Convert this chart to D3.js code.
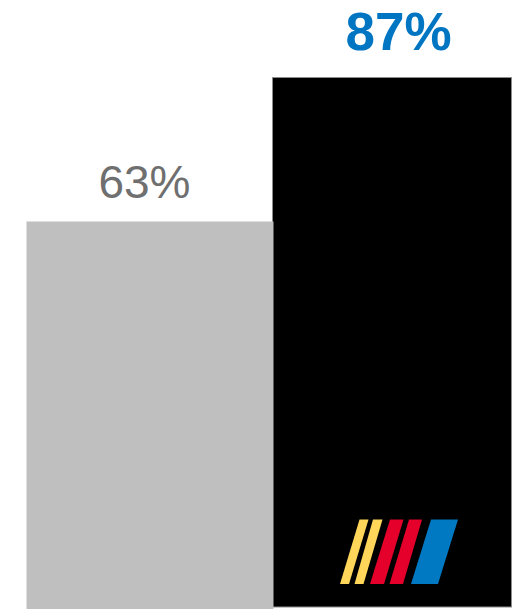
<!DOCTYPE html>
<html>
<head>
<meta charset="utf-8">
<script src="https://cdn.jsdelivr.net/npm/d3@7"></script>
<style>
  html, body { margin: 0; padding: 0; background: #fff; overflow: hidden; }
  svg { display: block; }
</style>
</head>
<body>
<div id="chart"></div>
<script>
// ── Data ────────────────────────────────────────────────────────────────────
const categories = ['Other', 'NASCAR'];
const values = [63, 87];
const labels = ['63%', '87%'];

// ── Layout ──────────────────────────────────────────────────────────────────
const W = 524, H = 609;

const svg = d3.select('#chart').append('svg')
  .attr('width', W).attr('height', H);

const x = d3.scaleBand().domain(categories).range([26, 512]).padding(0);
// value → bar top; 87 lands at y≈77, 63 at y≈221
const y = d3.scaleLinear().domain([0, 100]).range([599, -1]);

// per-bar drawing style (order matches categories)
const barStyle = [
  { fill: '#bfbfbf', stroke: 'none', dx: 0, dw: 5, bottom: 612,
    label: { fill: '#6f6f6f', size: 46, weight: 400, dx: -3, dy: -23 } },
  { fill: '#000000', stroke: '#8c8c8c', dx: 3, dw: -3, bottom: 606.5,
    label: { fill: '#0075c2', size: 53, weight: 700, dx: 8, dy: -27 } }
];

const rows = categories.map((c, i) => ({ c, v: values[i], label: labels[i], s: barStyle[i] }));

// black bar first so the grey one overlaps its lower-left edge
const drawOrder = [rows[1], rows[0]];
svg.selectAll('rect.bar').data(drawOrder).enter().append('rect')
  .attr('class', 'bar')
  .attr('x', d => x(d.c) + d.s.dx + 0.5)
  .attr('y', d => y(d.v) + 0.5)
  .attr('width', d => x.bandwidth() + d.s.dw - 1)
  .attr('height', d => d.s.bottom - y(d.v))
  .attr('fill', d => d.s.fill)
  .attr('stroke', d => d.s.stroke)
  .attr('stroke-width', 1);

// value labels
svg.selectAll('text.val').data(rows).enter().append('text')
  .attr('class', 'val')
  .attr('x', d => x(d.c) + x.bandwidth() / 2 + d.s.label.dx)
  .attr('y', d => y(d.v) + d.s.label.dy)
  .attr('text-anchor', 'middle')
  .attr('font-family', 'Liberation Sans, Arial, sans-serif')
  .attr('font-size', d => d.s.label.size)
  .attr('font-weight', d => d.s.label.weight)
  .attr('fill', d => d.s.label.fill)
  .text(d => d.label);

// ── NASCAR stripe mark inside the black bar ─────────────────────────────────
const stripes = [
  { top: [359.5, 368.5], bot: [340, 349], color: '#ffd65a' },
  { top: [373, 382.5], bot: [354.5, 363.5], color: '#ffd65a' },
  { top: [390, 403.5], bot: [370, 384], color: '#e4002b' },
  { top: [409, 422], bot: [389.5, 403], color: '#e4002b' },
  { top: [431, 458], bot: [411, 438], color: '#0079c2' }
];
const logoTop = 519.5, logoBot = 584;
svg.append('g').selectAll('path').data(stripes).enter().append('path')
  .attr('d', d => `M${d.top[0]},${logoTop}L${d.top[1]},${logoTop}L${d.bot[1]},${logoBot}L${d.bot[0]},${logoBot}Z`)
  .attr('fill', d => d.color);
</script>
</body>
</html>
